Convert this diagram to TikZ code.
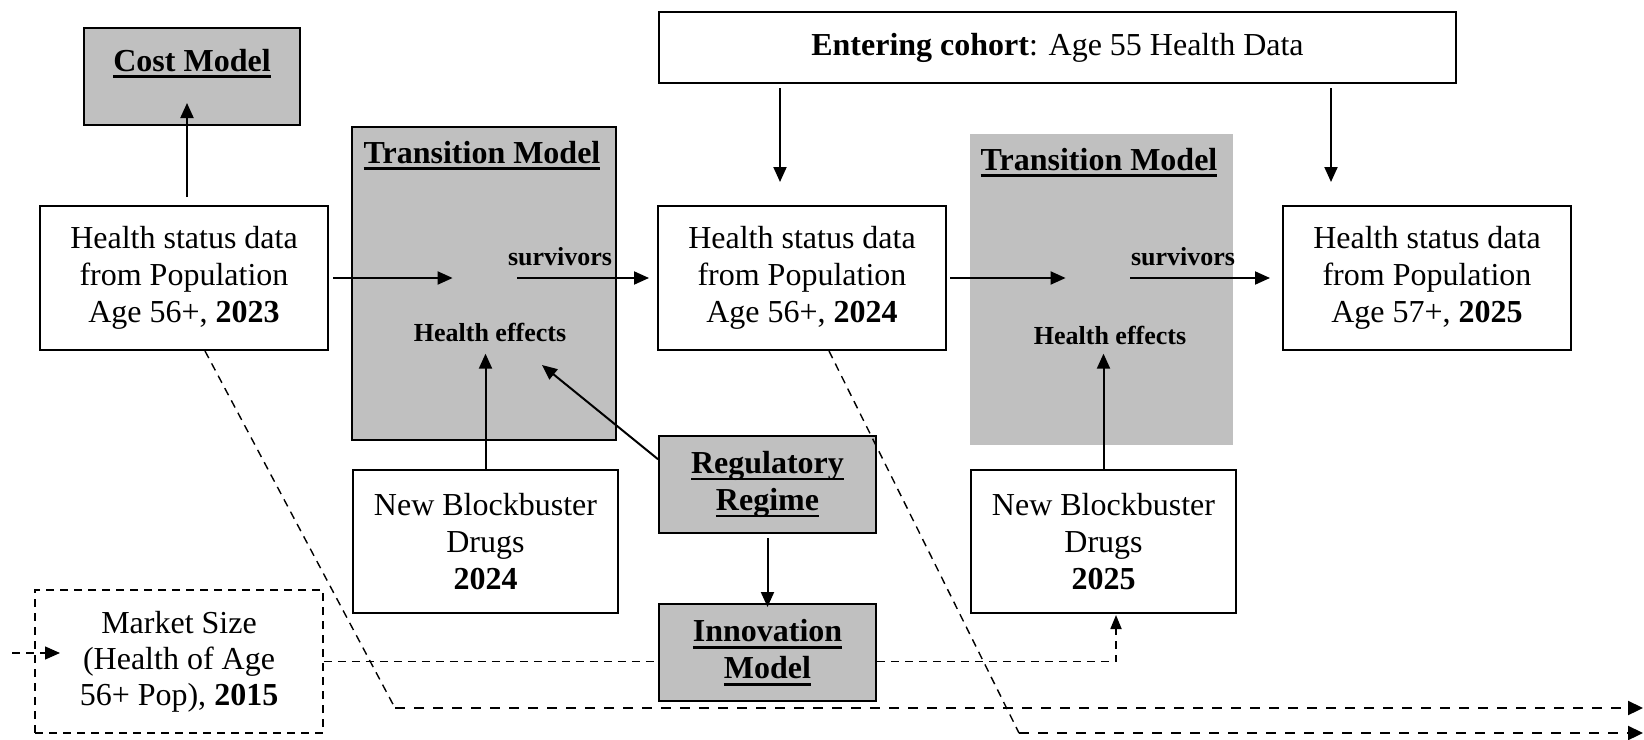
\documentclass[tikz,border=0pt]{standalone}
\usepackage{fontspec}
\setmainfont{Liberation Serif}
\usepackage{xcolor}
\usepackage{tikz}
\usetikzlibrary{arrows.meta,positioning,calc}
\definecolor{modelgray}{RGB}{192,192,192}
\newcommand\mkul[1]{\leavevmode\setbox0\hbox{#1}\rlap{\rule[-3.4pt]{\wd0}{1.4pt}}\box0}

\begin{document}
\begin{tikzpicture}[x=0.5pt, y=-0.5pt,
    box/.style={draw, line width=1pt, align=center, inner sep=0pt, font=\fontsize{16}{18.5}\selectfont},
    gbox/.style={box, fill=modelgray, font=\fontsize{16}{18.5}\selectfont\bfseries},
    dbox/.style={box, dash pattern=on 4pt off 3pt, line width=0.9pt, font=\fontsize{16}{18}\selectfont},
    lbl/.style={inner sep=2pt, font=\fontsize{13}{15}\selectfont\bfseries},
    ttl/.style={inner sep=0pt, font=\fontsize{16}{18}\selectfont\bfseries},
    hub/.style={minimum width=32pt, minimum height=2pt, inner sep=0pt},
    arr/.style={-{Triangle[length=7.5pt, width=6.5pt]}, line width=1pt},
    dline/.style={line width=0.7pt, dash pattern=on 4pt off 3pt},
    darr/.style={-{Triangle[length=7.5pt, width=7pt]}, line width=1.1pt, dash pattern=on 5pt off 4.5pt}
]
\useasboundingbox (0,0) rectangle (1644,739);

\node[box, fill=modelgray, minimum width=132pt, minimum height=156.5pt] (trans1) at (484,283.5) {};
\node[fill=modelgray, minimum width=131.5pt, minimum height=155.5pt, inner sep=0pt] (trans2) at (1101.5,289.5) {};
\node[ttl, anchor=base] (title1) at (482,163) {\mkul{Transition Model}};
\node[ttl, anchor=base] (title2) at (1099,170) {\mkul{Transition Model}};

\node[gbox, minimum width=108pt, text height=21.5pt, text depth=27pt] (cost) at (192,76.5) {\mkul{Cost Model}};
\node[box, minimum width=398.5pt, minimum height=35.5pt] (cohort) at (1057.5,47.5) {\textbf{Entering cohort}: Age 55 Health Data};

\node[box, minimum width=144pt, minimum height=72pt] (hs23) at (184,278) {Health status data\\from Population\\Age 56+, \textbf{2023}};
\node[box, minimum width=144pt, minimum height=72pt] (hs24) at (802,278) {Health status data\\from Population\\Age 56+, \textbf{2024}};
\node[box, minimum width=144pt, minimum height=72pt] (hs25) at (1427,278) {Health status data\\from Population\\Age 57+, \textbf{2025}};

\node[hub] (hub1) at (485,278) {};
\node[hub] (hub2) at (1098,278) {};
\node[lbl, anchor=base] (surv1) at (560,265) {survivors};
\node[lbl, anchor=base] (surv2) at (1183,265) {survivors};
\node[lbl, anchor=base] (eff1) at (490,341) {Health effects};
\node[lbl, anchor=base] (eff2) at (1110,344) {Health effects};

\node[box, minimum width=132.5pt, minimum height=71.5pt] (drugs24) at (485.5,541.5) {New Blockbuster\\Drugs\\\textbf{2024}};
\node[box, minimum width=132.5pt, minimum height=71.5pt] (drugs25) at (1103.5,541.5) {New Blockbuster\\Drugs\\\textbf{2025}};
\node[gbox, minimum width=108.5pt, minimum height=48.5pt] (reg) at (767.5,484.5) {\mkul{Regulatory}\\\mkul{Regime}};
\node[gbox, minimum width=108.5pt, minimum height=48.5pt] (innov) at (767.5,652.5) {\mkul{Innovation}\\\mkul{Model}};
\node[dbox, minimum width=144pt, minimum height=71.5pt] (market) at (179,661.5) {Market Size\\(Health of Age\\56+ Pop), \textbf{2015}};

\coordinate (costin) at (187,103);
\coordinate (in24) at (780,182);
\coordinate (in25) at (1331,182);
\coordinate (efftip) at (542,365);
\coordinate (mktsrc) at (12,653);
\coordinate (mkttip) at (60,653);
\coordinate (drugtip) at (1116,615);
\coordinate (bend23) at (395,708);
\coordinate (out23) at (1643,708);
\coordinate (bend24) at (1019,733);
\coordinate (out24) at (1643,733);

\draw[arr, shorten <=4pt] (hs23.north -| costin) -- (costin);
\draw[arr, shorten <=2pt] (cohort.south -| in24) -- (in24);
\draw[arr, shorten <=2pt] (cohort.south -| in25) -- (in25);
\draw[arr, shorten <=2pt] (hs23) -- (hub1);
\draw[arr, shorten >=4pt] (hub1) -- (hs24);
\draw[arr, shorten <=1.5pt] (hs24) -- (hub2);
\draw[arr, shorten >=6pt] (hub2) -- (hs25);
\draw[arr, shorten >=4pt] (drugs24.north) -- (drugs24.north |- eff1.south);
\draw[arr, shorten >=2.5pt] (drugs25.north) -- (drugs25.north |- eff2.south);
\draw[arr] (reg.167) -- (efftip);
\draw[arr, shorten <=2pt, shorten >=-2pt] (reg) -- (innov);

\draw[dline, -{Triangle[length=7.5pt, width=6.5pt]}] (mktsrc) -- (mkttip);
\draw[dline, line width=0.9pt] (market.east) -- (market.east -| innov.west);
\draw[dline, line width=0.9pt, -{Triangle[length=7pt, width=5.5pt]}] (market.east -| innov.east) -| (drugtip);
\draw[dline] ([xshift=10.5pt]hs23.south) -- (bend23);
\draw[darr] (bend23) -- (out23);
\draw[dline] ([xshift=13.5pt]hs24.south) -- (bend24);
\draw[darr] (bend24) -- (out24);
\end{tikzpicture}
\end{document}
